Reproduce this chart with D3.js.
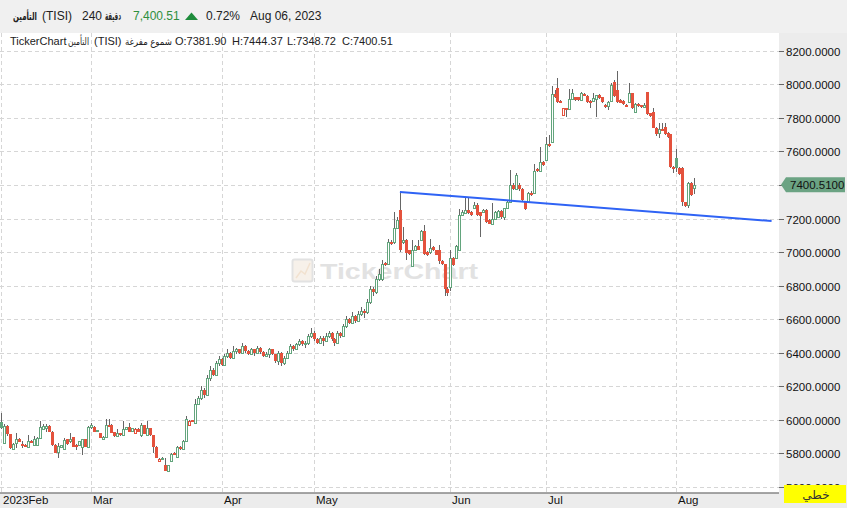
<!DOCTYPE html>
<html><head><meta charset="utf-8">
<script src="https://cdn.jsdelivr.net/npm/d3@7"></script>
<style>
body{margin:0;background:#fff;overflow:hidden}
svg{display:block;font-family:"Liberation Sans","DejaVu Sans",Arial,sans-serif}
</style>
</head><body>
<svg id="c" width="847" height="508"></svg>
<script>
// ---- data ----
const opens=[5990,5864,5961,5913,5826,5864,5889,5856,5852,5840,
5876,5852,5852,5894,5948,5950,5966,5930,5852,5806,
5840,5828,5884,5872,5896,5852,5852,5840,5884,5840,
5956,5960,5934,5920,5888,5900,5972,5972,5928,5904,
5920,5908,5944,5960,5932,5924,5948,5908,5968,5908,
5952,5908,5840,5752,5764,5732,5696,5752,5804,5780,
5840,5828,5876,5972,6000,5984,
6096,6130,6180,6150,6250,6300,6270,6340,6360,6330,
6380,6400,6370,6410,6420,6400,6440,6410,6395,6420,
6400,6430,6405,6380,6395,6420,6390,6350,6400,6340,
6370,6400,6440,6420,6450,6470,6450,6460,6500,6520,
6480,6460,6490,6470,6500,6520,6480,6460,6520,6500,
6560,6600,6580,6620,6590,6630,6650,6640,6700,6780,6760,6840,
6840,6934,6930,7060,7060,7146,7250,7058,7074,7010,
6918,7010,7038,7070,7126,7000,6998,7030,
7010,7010,6946,6926,6780,6790,6966,6966,7010,7220,
7230,7250,7240,7260,7280,7236,7240,7250,7190,7170,
7200,7210,7246,7210,7260,7300,7400,7374,7400,7374,7300,7300,7354,
7354,7494,7486,7534,7550,7642,7658,7942,7978,7902,
7816,7856,7850,7910,7922,7922,7906,7942,7930,7902,
7902,7910,7936,7922,7878,7870,7902,8014,7966,7906,
7902,7878,7896,7946,7832,7882,7874,7866,7954,7826,
7836,7742,7710,7736,7746,7710,7702,7506,7562,7502,
7502,7296,7282,7414,7381.90];
const highs=[6039,5975,5970,5915,5860,5924,5892,5874,5855,5910,
5880,5904,5898,5992,5976,5976,5970,5932,5854,5864,
5850,5890,5886,5924,5898,5858,5874,5886,5886,5964,
5984,5962,5942,5922,5902,6008,6004,5974,5930,5944,
5922,5992,5958,5984,5954,5950,5950,5984,5970,5992,
5954,5910,5842,5774,5776,5772,5734,5804,5806,5842,
5842,5878,6024,5998,6002,6124,
6140,6200,6190,6270,6320,6310,6350,6380,6370,6390,
6420,6405,6440,6430,6425,6460,6445,6415,6430,6425,
6440,6435,6410,6405,6430,6425,6395,6410,6405,6380,
6410,6450,6445,6460,6480,6475,6470,6510,6550,6530,
6490,6500,6500,6520,6530,6525,6490,6530,6525,6570,
6620,6610,6640,6625,6650,6670,6660,6720,6800,6790,6860,6900,
6950,6940,7080,7070,7240,7210,7360,7150,7076,7015,
7070,7040,7070,7134,7160,7005,7080,7035,
7015,7040,6950,6930,6790,7014,6970,7040,7254,7250,
7320,7320,7245,7300,7290,7240,7255,7255,7195,7290,
7245,7250,7250,7265,7306,7490,7410,7470,7410,7380,7305,7360,7362,
7522,7500,7626,7540,7686,7700,7990,7966,8036,7906,
7860,7860,7970,7970,7926,7926,7954,7946,7934,7906,
7946,7938,7940,7926,7882,7898,8006,8026,8080,7910,
7906,7880,8010,7950,7886,7886,7878,7890,7956,7830,
7860,7746,7770,7770,7770,7714,7706,7510,7616,7506,
7506,7300,7420,7420,7444.37];
const lows=[5945,5855,5905,5825,5822,5830,5866,5830,5836,5834,
5862,5850,5850,5894,5944,5928,5926,5846,5800,5774,
5838,5826,5852,5862,5836,5820,5848,5790,5838,5834,
5948,5926,5932,5890,5884,5896,5962,5920,5900,5902,
5906,5904,5940,5926,5930,5922,5926,5900,5914,5906,
5906,5804,5770,5748,5760,5694,5688,5750,5790,5778,
5820,5826,5874,5970,5988,5982,
6090,6120,6130,6140,6230,6260,6260,6320,6320,6325,
6370,6360,6365,6390,6390,6395,6400,6385,6390,6380,
6395,6395,6375,6375,6370,6385,6340,6330,6320,6330,
6360,6390,6410,6415,6440,6440,6430,6445,6490,6470,
6450,6455,6440,6465,6490,6470,6440,6455,6490,6495,
6550,6570,6575,6580,6585,6620,6610,6630,6690,6740,6750,6830,
6830,6915,6920,7040,7050,7140,7000,7050,6954,6985,
6910,7005,7010,7065,6985,6978,6990,7005,
6980,6930,6920,6740,6736,6770,6915,6960,7005,7215,
7225,7225,7215,7255,7215,7090,7235,7175,7165,7165,
7195,7205,7200,7190,7255,7295,7370,7370,7365,7300,7250,7290,7335,
7350,7478,7480,7514,7545,7625,7650,7918,7890,7886,
7812,7802,7846,7905,7902,7900,7900,7932,7890,7856,
7898,7802,7912,7890,7860,7846,7898,7925,7890,7886,
7878,7862,7890,7850,7828,7866,7858,7862,7818,7806,
7738,7690,7680,7720,7698,7680,7502,7470,7476,7460,
7274,7270,7262,7334,7348.72];
const closes=[5950,5961,5913,5830,5858,5889,5870,5846,5840,5874,
5868,5888,5894,5956,5964,5966,5928,5848,5804,5844,
5848,5880,5856,5888,5840,5836,5872,5884,5840,5960,
5972,5928,5940,5894,5900,5972,5964,5924,5904,5920,
5908,5944,5956,5928,5952,5948,5928,5972,5916,5952,
5908,5840,5772,5764,5772,5696,5732,5796,5792,5840,
5824,5876,6004,5996,5990,6096,
6130,6180,6150,6250,6300,6270,6340,6360,6330,6380,
6400,6370,6410,6420,6400,6440,6410,6395,6420,6400,
6430,6405,6380,6395,6420,6390,6350,6400,6340,6370,
6400,6440,6420,6450,6470,6450,6460,6500,6520,6480,
6460,6490,6470,6500,6520,6480,6460,6520,6500,6560,
6600,6580,6620,6590,6630,6650,6640,6700,6780,6760,6840,6870,
6930,6920,7060,7046,7146,7190,7010,7074,6994,6990,
7010,7038,7014,7126,6990,6982,7026,7010,
6985,6946,6926,6780,6754,6966,6920,7034,7220,7240,
7250,7230,7220,7280,7220,7216,7250,7180,7170,7200,
7240,7246,7210,7260,7300,7400,7374,7460,7374,7310,7254,7354,7338,
7486,7482,7534,7518,7642,7630,7942,7922,7896,7890,
7856,7846,7910,7946,7906,7904,7946,7936,7896,7890,
7916,7934,7916,7894,7870,7894,7996,7930,7896,7890,
7882,7866,7946,7856,7882,7870,7862,7876,7822,7810,
7742,7702,7732,7728,7702,7686,7506,7494,7502,7466,
7296,7276,7414,7338,7400.51];
const yTicks=[5600,5800,6000,6200,6400,6600,6800,7000,7200,7400,7600,7800,8000,8200];
const monthLabels=["2023Feb","Mar","Apr","May","Jun","Jul","Aug"];
const monthStart=[0,30,74,105,151,183,227];
const trendLine=[{i:134,v:7358},{i:259,v:7185}];
const symbolName="التأمين", symbolCode="(TISI)", periodNum="240", periodUnit="دقيقة", chartType="شموع مفرغة";
const changePct="0.72%", dateLabel="Aug 06, 2023", lineLabel="خطي";

// ---- layout ----
const W=847,H=508, plotL=0, plotR=779, plotT=33, plotB=492.5;
const svg=d3.select("#c");
const x=d3.scaleLinear().domain([-0.5,261.5]).range([plotL,plotR]);
const y=d3.scaleLinear().domain([5600,8200]).range([487,50.7]);

// backgrounds
svg.append("rect").attr("x",0).attr("y",0).attr("width",W).attr("height",H).attr("fill","#ececec");
svg.append("rect").attr("x",0).attr("y",0).attr("width",W).attr("height",plotT).attr("fill","#f0f0f0");
svg.append("rect").attr("x",plotL).attr("y",plotT).attr("width",plotR-plotL).attr("height",plotB-plotT).attr("fill","#fff");

const clip=svg.append("defs").append("clipPath").attr("id","pc");
clip.append("rect").attr("x",plotL).attr("y",plotT).attr("width",plotR-plotL).attr("height",plotB-plotT);
const plot=svg.append("g").attr("clip-path","url(#pc)");

// grid
plot.selectAll("line.hg").data(yTicks).join("line").attr("class","hg")
 .attr("x1",plotL).attr("x2",plotR).attr("y1",d=>Math.round(y(d))+0.5).attr("y2",d=>Math.round(y(d))+0.5)
 .attr("stroke","#d6d6d6").attr("stroke-dasharray","4,3");
plot.selectAll("line.vg").data(monthStart).join("line").attr("class","vg")
 .attr("x1",d=>Math.round(x(d))+0.5).attr("x2",d=>Math.round(x(d))+0.5).attr("y1",plotT).attr("y2",plotB)
 .attr("stroke","#d6d6d6").attr("stroke-dasharray","4,3");

// watermark
const wm=plot.append("g");
wm.append("rect").attr("x",292.5).attr("y",259.5).attr("width",20).attr("height",22).attr("rx",2)
 .attr("fill","#f7f1ea").attr("stroke","#e2e2e2").attr("stroke-width",2);
wm.append("polyline").attr("points","296,278 301,271 305,274 310,263").attr("fill","none").attr("stroke","#f2e2d0").attr("stroke-width",1.5);
wm.append("text").attr("x",320).attr("y",278.5).attr("font-size",22).attr("font-weight","bold")
 .attr("fill","#e2e2e2").attr("textLength",158).attr("lengthAdjust","spacingAndGlyphs").text("TickerChart");

// candles
const green="#63a57d", red="#e4523d";
const candles=opens.map((o,i)=>({i,o,h:highs[i],l:lows[i],c:closes[i]}));
const cg=plot.append("g");
candles.forEach((d,i)=>{
  const prev=i===0?-Infinity:closes[i-1];
  const col=d.c>=prev?green:red;
  const hollow=d.c>d.o;
  const cx=Math.round(x(d.i));
  cg.append("line").attr("x1",cx+0.5).attr("x2",cx+0.5).attr("y1",Math.round(y(d.h))).attr("y2",Math.round(y(d.l)))
    .attr("stroke","#666").attr("stroke-width",1);
  const t=Math.round(y(Math.max(d.o,d.c))), b=Math.round(y(Math.min(d.o,d.c)));
  if(hollow){
    cg.append("rect").attr("x",cx-0.5).attr("y",t+0.5).attr("width",2).attr("height",Math.max(b-t,1))
      .attr("fill","#fff").attr("stroke",col).attr("stroke-width",1);
  } else {
    cg.append("rect").attr("x",cx-1).attr("y",t).attr("width",3).attr("height",Math.max(b-t,2)).attr("fill",col);
  }
});

// trend line
plot.append("line").attr("x1",x(trendLine[0].i)).attr("y1",y(trendLine[0].v))
 .attr("x2",x(trendLine[1].i)).attr("y2",y(trendLine[1].v))
 .attr("stroke","#2f63f5").attr("stroke-width",2);

// current price position
const last=closes.length-1, ly=y(closes[last]);

// y axis
const ya=svg.append("g");
yTicks.forEach(v=>{
  const yy=Math.round(y(v))+0.5;
  ya.append("line").attr("x1",plotR).attr("x2",plotR+5).attr("y1",yy).attr("y2",yy).attr("stroke","#666");
  if(Math.abs(yy-ly)>9) // hidden behind the price flag in the reference
    ya.append("text").attr("x",plotR+7).attr("y",yy+4).attr("font-size",11.5).attr("fill","#111").text(v.toFixed(4));
});

// x axis
svg.append("line").attr("x1",plotL).attr("x2",plotR).attr("y1",plotB+0.5).attr("y2",plotB+0.5).attr("stroke","#555").attr("stroke-width",1.2);
monthLabels.forEach((m,k)=>{
  svg.append("text").attr("x",Math.round(x(monthStart[k]))+2).attr("y",503.5).attr("font-size",11.5).attr("fill","#111").text(m);
});

// current price label
svg.append("path").attr("d",`M781,${ly} L786,${ly-7.5} L845,${ly-7.5} L845,${ly+7.5} L786,${ly+7.5} Z`).attr("fill","#6ba383");
svg.append("text").attr("x",790).attr("y",ly+4).attr("font-size",11.5).attr("fill","#111").text(closes[last].toFixed(4));

// yellow box
svg.append("rect").attr("x",784).attr("y",485).attr("width",62).attr("height",18).attr("fill","#ffff00");
svg.append("text").attr("x",816).attr("y",498.5).attr("text-anchor","middle").attr("font-size",12).attr("fill","#333").text(lineLabel);

// header
const hd=svg.append("g").attr("font-size",12).attr("fill","#222");
hd.append("text").attr("x",13).attr("y",20).attr("font-weight","bold").attr("font-size",11)
  .attr("textLength",24).attr("lengthAdjust","spacingAndGlyphs").text(symbolName);
hd.append("text").attr("x",42).attr("y",20).text(symbolCode);
hd.append("text").attr("x",82).attr("y",20).text(periodNum);
hd.append("text").attr("x",105).attr("y",20).attr("font-weight","bold").attr("font-size",11)
  .attr("textLength",16).attr("lengthAdjust","spacingAndGlyphs").text(periodUnit);
hd.append("text").attr("x",133).attr("y",20).attr("fill","#2e8f3e").text(d3.format(",.2f")(closes[last]));
hd.append("path").attr("d","M185,20 L191.5,12.5 L198,20 Z").attr("fill","#1e8c3c");
hd.append("text").attr("x",206).attr("y",20).text(changePct);
hd.append("text").attr("x",250).attr("y",20).text(dateLabel);

// legend line
const lg=svg.append("g").attr("font-size",11).attr("fill","#222");
lg.append("text").attr("x",10).attr("y",45).text("TickerChart");
lg.append("text").attr("x",68).attr("y",45).attr("font-size",10).attr("textLength",21).attr("lengthAdjust","spacingAndGlyphs").text(symbolName);
lg.append("text").attr("x",94).attr("y",45).text(symbolCode);
lg.append("text").attr("x",125).attr("y",45).attr("font-size",10).attr("textLength",47).attr("lengthAdjust","spacingAndGlyphs").text(chartType);
[["O:"+opens[last].toFixed(2),175],["H:"+highs[last].toFixed(2),232],["L:"+lows[last].toFixed(2),287],["C:"+closes[last].toFixed(2),342]]
  .forEach(p=>lg.append("text").attr("x",p[1]).attr("y",45).text(p[0]));
</script>
</body></html>
